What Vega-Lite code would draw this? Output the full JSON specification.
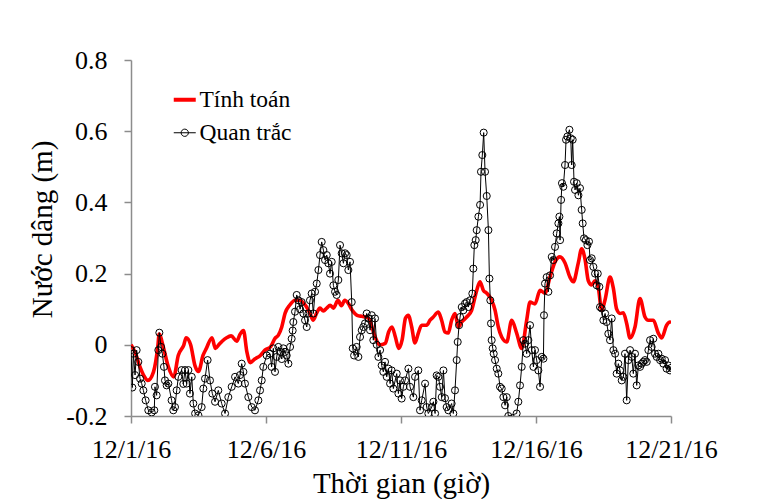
{
  "$schema": "https://vega.github.io/schema/vega-lite/v6.json",
  "width": 540,
  "height": 356,
  "autosize": "none",
  "padding": {"left": 131, "top": 60, "right": 90, "bottom": 83},
  "background": "white",
  "config": {
    "font": "Liberation Serif",
    "view": {"stroke": null},
    "axis": {
      "grid": false,
      "domainColor": "#8c8c8c",
      "tickColor": "#8c8c8c",
      "domainWidth": 1.5,
      "tickWidth": 1.5,
      "tickSize": 7,
      "labelFont": "Liberation Serif",
      "labelFontSize": 26,
      "labelColor": "black",
      "titleFont": "Liberation Serif",
      "titleFontSize": 29,
      "titleFontWeight": "normal",
      "titleColor": "black",
      "labelOverlap": false,
      "labelFlush": false
    }
  },
  "datasets": {
    "tinh": [
      {"h":0,"v":0.0},{"h":4,"v":-0.024},{"h":8,"v":-0.062},{"h":12,"v":-0.09},{"h":15,"v":-0.1},{"h":20,"v":-0.076},{"h":24,"v":0.0},{"h":25,"v":0.03},{"h":29,"v":-0.01},{"h":33,"v":-0.06},{"h":38,"v":-0.09},{"h":42,"v":-0.03},{"h":47,"v":0.0},{"h":49,"v":0.02},{"h":53,"v":0.0},{"h":57,"v":-0.06},{"h":60,"v":-0.075},{"h":64,"v":-0.03},{"h":67,"v":-0.01},{"h":72,"v":0.02},{"h":75,"v":-0.01},{"h":78,"v":0.0},{"h":81,"v":0.01},{"h":85,"v":0.02},{"h":89,"v":0.025},{"h":94,"v":0.01},{"h":97,"v":0.03},{"h":100,"v":0.04},{"h":103,"v":-0.02},{"h":106,"v":-0.05},{"h":110,"v":-0.04},{"h":115,"v":-0.03},{"h":119,"v":-0.015},{"h":124,"v":-0.006},{"h":128,"v":0.018},{"h":131,"v":0.027},{"h":134,"v":0.05},{"h":137,"v":0.089},{"h":141,"v":0.111},{"h":146,"v":0.125},{"h":150,"v":0.125},{"h":155,"v":0.111},{"h":159,"v":0.089},{"h":162,"v":0.069},{"h":165,"v":0.089},{"h":168,"v":0.103},{"h":171,"v":0.095},{"h":174,"v":0.103},{"h":177,"v":0.111},{"h":180,"v":0.103},{"h":184,"v":0.125},{"h":187,"v":0.11},{"h":190,"v":0.125},{"h":193,"v":0.117},{"h":196,"v":0.1},{"h":201,"v":0.083},{"h":205,"v":0.08},{"h":209.5,"v":0.078},{"h":212,"v":0.07},{"h":217,"v":0.022},{"h":221,"v":0.0},{"h":226,"v":0.004},{"h":229,"v":0.036},{"h":232,"v":0.05},{"h":235,"v":0.022},{"h":238,"v":-0.01},{"h":241,"v":0.014},{"h":244,"v":0.075},{"h":246.5,"v":0.083},{"h":249.5,"v":0.05},{"h":252.4,"v":0.005},{"h":255.4,"v":0.033},{"h":258.4,"v":0.055},{"h":262.8,"v":0.055},{"h":265.8,"v":0.069},{"h":268.7,"v":0.078},{"h":273.2,"v":0.092},{"h":276.1,"v":0.069},{"h":279.1,"v":0.036},{"h":282,"v":0.033},{"h":285,"v":0.069},{"h":288,"v":0.088},{"h":291,"v":0.05},{"h":294,"v":0.064},{"h":298.4,"v":0.078},{"h":302.8,"v":0.097},{"h":307.3,"v":0.153},{"h":310.2,"v":0.177},{"h":313.2,"v":0.153},{"h":316.2,"v":0.145},{"h":320.6,"v":0.125},{"h":323.6,"v":0.097},{"h":326.5,"v":0.05},{"h":329.5,"v":0.022},{"h":334,"v":0.008},{"h":338.4,"v":0.069},{"h":342.8,"v":0.033},{"h":347.3,"v":-0.01},{"h":351.7,"v":0.069},{"h":354.7,"v":0.12},{"h":359.1,"v":0.115},{"h":363.6,"v":0.153},{"h":368,"v":0.145},{"h":372.4,"v":0.19},{"h":376.9,"v":0.233},{"h":381.3,"v":0.247},{"h":385.8,"v":0.23},{"h":390.2,"v":0.19},{"h":393.2,"v":0.177},{"h":397.6,"v":0.23},{"h":400.6,"v":0.27},{"h":403.6,"v":0.24},{"h":406.5,"v":0.18},{"h":409.5,"v":0.168},{"h":412.4,"v":0.18},{"h":415.4,"v":0.16},{"h":418.4,"v":0.097},{"h":421.3,"v":0.125},{"h":425.8,"v":0.19},{"h":428.7,"v":0.16},{"h":431.7,"v":0.1},{"h":434.7,"v":0.088},{"h":437.6,"v":0.09},{"h":440.6,"v":0.06},{"h":443.6,"v":0.019},{"h":448,"v":0.05},{"h":452.4,"v":0.13},{"h":456.9,"v":0.078},{"h":459.8,"v":0.069},{"h":464.3,"v":0.069},{"h":468.7,"v":0.033},{"h":471.7,"v":0.019},{"h":476.1,"v":0.055},{"h":479.1,"v":0.064},{"h":480,"v":0.06}
    ],
    "quan": [
      {"h":0,"v":-0.015},{"h":1.2,"v":-0.12},{"h":2.1,"v":-0.025},{"h":3.6,"v":-0.085},{"h":5,"v":-0.015},{"h":6.5,"v":-0.048},{"h":8,"v":-0.095},{"h":9.5,"v":-0.109},{"h":11,"v":-0.128},{"h":13,"v":-0.156},{"h":15.4,"v":-0.184},{"h":18.4,"v":-0.19},{"h":20.7,"v":-0.184},{"h":21.3,"v":-0.118},{"h":22.8,"v":-0.142},{"h":24.3,"v":-0.015},{"h":25.2,"v":0.034},{"h":26.7,"v":-0.006},{"h":27.9,"v":-0.025},{"h":29.3,"v":-0.062},{"h":30.2,"v":-0.1},{"h":31.7,"v":-0.114},{"h":33.2,"v":-0.109},{"h":36.1,"v":-0.156},{"h":37.6,"v":-0.184},{"h":39.1,"v":-0.175},{"h":40.6,"v":-0.128},{"h":42.1,"v":-0.09},{"h":45,"v":-0.071},{"h":46.5,"v":-0.11},{"h":48,"v":-0.071},{"h":49.5,"v":-0.109},{"h":51,"v":-0.071},{"h":52.4,"v":-0.137},{"h":54,"v":-0.09},{"h":55.4,"v":-0.165},{"h":57,"v":-0.193},{"h":59.9,"v":-0.198},{"h":62.8,"v":-0.175},{"h":64.3,"v":-0.123},{"h":65.8,"v":-0.095},{"h":68.1,"v":-0.043},{"h":70.2,"v":-0.1},{"h":72.3,"v":-0.137},{"h":74.7,"v":-0.16},{"h":77.6,"v":-0.128},{"h":80.6,"v":-0.165},{"h":83.6,"v":-0.193},{"h":86.5,"v":-0.147},{"h":89.5,"v":-0.118},{"h":92.5,"v":-0.09},{"h":95.4,"v":-0.109},{"h":96.9,"v":-0.085},{"h":98.4,"v":-0.053},{"h":99.9,"v":-0.076},{"h":101.3,"v":-0.109},{"h":104.3,"v":-0.147},{"h":107.3,"v":-0.175},{"h":110.2,"v":-0.184},{"h":113.2,"v":-0.156},{"h":114.7,"v":-0.128},{"h":116.2,"v":-0.1},{"h":117.6,"v":-0.062},{"h":120.6,"v":-0.03},{"h":123.6,"v":-0.025},
      {"h":125,"v":-0.062},{"h":126.5,"v":-0.01},{"h":128,"v":-0.076},{"h":129.5,"v":-0.034},{"h":131,"v":-0.006},{"h":132.5,"v":-0.02},{"h":134,"v":-0.04},{"h":135.4,"v":-0.01},{"h":136.9,"v":-0.02},{"h":138.4,"v":-0.03},{"h":139.9,"v":-0.053},{"h":141.4,"v":-0.006},{"h":142.8,"v":0.017},{"h":143.7,"v":0.04},{"h":144.3,"v":0.064},{"h":145.8,"v":0.093},{"h":147.3,"v":0.14},{"h":148.8,"v":0.125},{"h":150.3,"v":0.1},{"h":151.7,"v":0.12},{"h":153.2,"v":0.088},{"h":154.7,"v":0.069},{"h":156.2,"v":0.05},{"h":157.7,"v":0.088},{"h":159.1,"v":0.125},{"h":160.6,"v":0.144},{"h":162.1,"v":0.088},{"h":163.6,"v":0.149},{"h":165.1,"v":0.172},{"h":166.6,"v":0.21},{"h":168,"v":0.252},{"h":169.5,"v":0.289},{"h":171,"v":0.266},{"h":172.5,"v":0.238},{"h":174,"v":0.252},{"h":175.4,"v":0.229},{"h":176.9,"v":0.2},{"h":178.4,"v":0.233},{"h":179.9,"v":0.167},{"h":181.4,"v":0.149},{"h":182.8,"v":0.14},{"h":184.3,"v":0.182},{"h":185.8,"v":0.28},{"h":187.3,"v":0.257},{"h":188.8,"v":0.229},{"h":190.3,"v":0.257},{"h":191.7,"v":0.252},{"h":193.2,"v":0.21},{"h":194.7,"v":0.233},{"h":196.2,"v":0.12},{"h":197.1,"v":-0.01},{"h":198.3,"v":-0.03},{"h":200.6,"v":-0.006},{"h":202.1,"v":-0.034},{"h":203.6,"v":0.022},{"h":205.1,"v":0.041},{"h":206.5,"v":0.05},{"h":208,"v":0.06},{"h":209.5,"v":0.088},{"h":211,"v":0.074},{"h":212.5,"v":0.041},{"h":214,"v":0.083},{"h":215.4,"v":0.013},{"h":216.9,"v":0.074},{"h":218.4,"v":0.0},{"h":219.9,"v":-0.034},{"h":221.4,"v":-0.015},{"h":222.8,"v":-0.058},{"h":224.3,"v":-0.076},{"h":225.8,"v":-0.048},{"h":227.3,"v":-0.09},{"h":228.8,"v":-0.067},{"h":230.3,"v":-0.109},{"h":231.7,"v":-0.072},{"h":233.2,"v":-0.123},{"h":236.2,"v":-0.081},{"h":237.7,"v":-0.137},{"h":239.1,"v":-0.1},{"h":240.6,"v":-0.151},{"h":242.1,"v":-0.118},
      {"h":243.6,"v":-0.1},{"h":246.6,"v":-0.067},{"h":248,"v":-0.118},{"h":251,"v":-0.147},{"h":252.5,"v":-0.09},{"h":255.4,"v":-0.072},{"h":256.9,"v":-0.184},{"h":258.4,"v":-0.156},{"h":261.4,"v":-0.109},{"h":262.8,"v":-0.175},{"h":264.3,"v":-0.193},{"h":267.3,"v":-0.175},{"h":268.8,"v":-0.16},{"h":270.3,"v":-0.193},{"h":271.7,"v":-0.086},{"h":273.2,"v":-0.09},{"h":274.7,"v":-0.118},{"h":276.2,"v":-0.147},{"h":277.7,"v":-0.072},{"h":279.1,"v":-0.15},{"h":280.6,"v":-0.175},{"h":282.1,"v":-0.184},{"h":285,"v":-0.165},{"h":286.5,"v":-0.193},{"h":288,"v":-0.128},{"h":289.5,"v":-0.043},{"h":290.4,"v":0.008},{"h":291.6,"v":0.055},{"h":292.5,"v":0.078},{"h":294,"v":0.106},{"h":295.4,"v":0.097},{"h":296.9,"v":0.116},{"h":298.4,"v":0.12},{"h":299.9,"v":0.106},{"h":301.4,"v":0.125},{"h":303.4,"v":0.144},{"h":304.3,"v":0.214},{"h":305.2,"v":0.28},{"h":306.4,"v":0.294},{"h":307.3,"v":0.322},{"h":308.8,"v":0.36},{"h":310.3,"v":0.393},{"h":311.1,"v":0.486},{"h":312.3,"v":0.533},{"h":313.5,"v":0.596},{"h":314.7,"v":0.486},{"h":316.2,"v":0.418},{"h":317.7,"v":0.322},{"h":318.6,"v":0.186},{"h":319.4,"v":0.125},{"h":320,"v":0.06},{"h":320.6,"v":0.013},{"h":321.5,"v":-0.01},{"h":322.4,"v":-0.025},{"h":323.6,"v":-0.043},{"h":325.1,"v":-0.067},{"h":326.5,"v":-0.081},{"h":328,"v":-0.118},{"h":329.5,"v":-0.123},{"h":331,"v":-0.147},{"h":332.5,"v":-0.17},{"h":334,"v":-0.147},{"h":335.4,"v":-0.2},{"h":342.8,"v":-0.193},{"h":344.3,"v":-0.16},{"h":345.8,"v":-0.114},{"h":347.3,"v":-0.062},{"h":348.8,"v":0.013},{"h":350.3,"v":0.003},{"h":351.7,"v":-0.025},{"h":353.2,"v":0.013},{"h":354.7,"v":0.055},{"h":356.2,"v":-0.015},{"h":357.7,"v":-0.062},{"h":359.1,"v":-0.015},{"h":360.6,"v":-0.043},{"h":362.1,"v":-0.072},
      {"h":363.6,"v":-0.118},{"h":365.1,"v":-0.034},{"h":366.6,"v":-0.039},{"h":367.1,"v":0.083},{"h":368,"v":0.172},{"h":369.5,"v":0.19},{"h":371,"v":0.149},{"h":372.5,"v":0.195},{"h":374,"v":0.247},{"h":375.4,"v":0.238},{"h":376.9,"v":0.275},{"h":378.4,"v":0.313},{"h":379.9,"v":0.341},{"h":380.8,"v":0.36},{"h":381.4,"v":0.294},{"h":382.3,"v":0.407},{"h":383.1,"v":0.454},{"h":384.3,"v":0.444},{"h":385.8,"v":0.505},{"h":386.7,"v":0.576},{"h":387.9,"v":0.585},{"h":389.7,"v":0.604},{"h":390.9,"v":0.58},{"h":391.7,"v":0.505},{"h":392.6,"v":0.576},{"h":393.8,"v":0.458},{"h":394.7,"v":0.435},{"h":396.2,"v":0.454},{"h":397.7,"v":0.42},{"h":399.1,"v":0.44},{"h":400.6,"v":0.379},{"h":401.5,"v":0.341},{"h":402.7,"v":0.299},{"h":404.2,"v":0.294},{"h":405.7,"v":0.28},{"h":407.1,"v":0.29},{"h":408,"v":0.238},{"h":409.5,"v":0.243},{"h":411,"v":0.219},{"h":412.5,"v":0.2},{"h":414,"v":0.167},{"h":414.9,"v":0.2},{"h":416.3,"v":0.163},{"h":416.9,"v":0.106},{"h":418.4,"v":0.102},{"h":419.9,"v":0.069},{"h":421.4,"v":0.088},{"h":422.8,"v":0.064},{"h":424.3,"v":0.031},{"h":425.8,"v":0.013},{"h":427.3,"v":0.074},{"h":428.8,"v":-0.015},{"h":430.3,"v":-0.025},{"h":431.7,"v":-0.081},{"h":433.2,"v":-0.053},{"h":434.7,"v":-0.072},{"h":436.2,"v":-0.1},{"h":437.7,"v":-0.09},{"h":439.1,"v":-0.025},{"h":440.6,"v":-0.156},{"h":442.1,"v":-0.043},{"h":443.6,"v":-0.015},{"h":445.1,"v":-0.034},{"h":446.5,"v":-0.081},{"h":448,"v":-0.025},{"h":449.5,"v":-0.114},{"h":451,"v":-0.058},{"h":452.5,"v":-0.062},{"h":454,"v":-0.053},{"h":455.4,"v":-0.048},{"h":456.9,"v":-0.043},{"h":458.4,"v":-0.048},{"h":459.9,"v":-0.015},{"h":461.4,"v":0.013},{"h":462.8,"v":-0.006},{"h":464.3,"v":0.017},{"h":465.8,"v":-0.025},{"h":467.3,"v":-0.034},{"h":468.8,"v":-0.025},{"h":470.3,"v":-0.043},{"h":471.7,"v":-0.039},{"h":473.2,"v":-0.053},{"h":474.7,"v":-0.043},{"h":476.1,"v":-0.067},{"h":477.6,"v":-0.058},{"h":479.1,"v":-0.072},{"h":480,"v":-0.065}
    ]
  },
  "encoding": {
    "x": {
      "field": "h", "type": "quantitative",
      "scale": {"domain": [0, 480], "nice": false, "zero": false},
      "axis": {
        "values": [0, 120, 240, 360, 480],
        "labelExpr": "'12/' + (datum.value / 24 + 1) + '/16'",
        "title": "Thời gian (giờ)",
        "labelPadding": 13,
        "titlePadding": 7
      }
    },
    "y": {
      "field": "v", "type": "quantitative",
      "scale": {"domain": [-0.2, 0.8], "nice": false, "zero": false},
      "axis": {
        "values": [-0.2, 0, 0.2, 0.4, 0.6, 0.8],
        "labelExpr": "datum.value == 0 ? '0' : (datum.value < 0 ? '-' + abs(datum.value) : '' + datum.value)",
        "title": "Nước dâng (m)",
        "labelPadding": 17,
        "titlePadding": 8,
        "titleY": 169
      }
    }
  },
  "layer": [
    {
      "data": {"name": "tinh"},
      "mark": {"type": "line", "strokeWidth": 3.6, "clip": true, "interpolate": "monotone"},
      "encoding": {
        "color": {
          "datum": "Tính toán",
          "scale": {"domain": ["Tính toán", "Quan trắc"], "range": ["#ff0000", "#000000"]},
          "legend": {
            "orient": "none",
            "legendX": 42,
            "legendY": 28,
            "title": null,
            "labelFont": "Liberation Serif",
            "labelFontSize": 23.5,
            "labelColor": "black",
            "symbolSize": 484,
            "labelOffset": 3,
            "rowPadding": 8,
            "encode": {
              "symbols": {
                "update": {
                  "shape": {"signal": "datum.value == 'Tính toán' ? 'M-1,0H1' : 'M-1,0H1M0.33,0A0.33,0.33,0,1,1,-0.33,0A0.33,0.33,0,1,1,0.33,0'"},
                  "strokeWidth": {"signal": "datum.value == 'Tính toán' ? 4 : 1"},
                  "fill": {"value": "transparent"}
                }
              }
            }
          }
        }
      }
    },
    {
      "data": {"name": "quan"},
      "mark": {"type": "line", "strokeWidth": 1, "clip": true, "point": {"filled": false, "size": 50, "strokeWidth": 1}},
      "encoding": {
        "color": {"datum": "Quan trắc"}
      }
    }
  ]
}
